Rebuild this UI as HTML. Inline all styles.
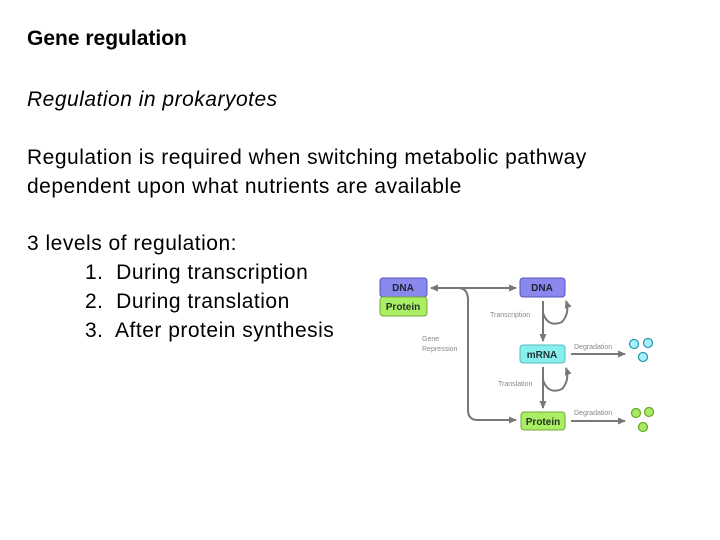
<html><head><style>
body{margin:0;width:720px;height:540px;background:#fff;position:relative;font-family:"Liberation Sans",sans-serif;color:#000}
.t{position:absolute;left:27px;font-size:21px;letter-spacing:0.5px;white-space:nowrap}
</style></head><body>
<div class="t" style="top:27px;font-weight:bold;letter-spacing:0">Gene regulation</div>
<div class="t" style="top:88px;font-style:italic">Regulation in prokaryotes</div>
<div class="t" style="top:146px">Regulation is required when switching metabolic pathway</div>
<div class="t" style="top:175px">dependent upon what nutrients are available</div>
<div class="t" style="top:232px">3 levels of regulation:</div>
<div class="t" style="top:261px;left:85px">1.&nbsp; During transcription</div>
<div class="t" style="top:290px;left:85px">2.&nbsp; During translation</div>
<div class="t" style="top:319px;left:85px">3.&nbsp; After protein synthesis</div>
<svg width="720" height="540" style="position:absolute;left:0;top:0" font-family="Liberation Sans,sans-serif">
<defs><marker id="a" markerUnits="userSpaceOnUse" markerWidth="8" markerHeight="8" refX="7" refY="4" orient="auto-start-reverse"><path d="M0,0.5L8,4L0,7.5z" fill="#777"/></marker></defs>
<g stroke="#777" stroke-width="2" fill="none">
<line x1="431" y1="288" x2="516" y2="288" marker-end="url(#a)" marker-start="url(#a)"/>
<path d="M458,288 Q468,288 468,300 L468,410 Q468,420 478,420 L516,420" marker-end="url(#a)"/>
<line x1="543" y1="301" x2="543" y2="341" marker-end="url(#a)"/>
<line x1="543" y1="367" x2="543" y2="408" marker-end="url(#a)"/>
<path d="M543,313 Q548,328 562,322 Q570,313 566,301" marker-end="url(#a)"/>
<path d="M543,380 Q548,395 562,389 Q570,380 566,368" marker-end="url(#a)"/>
<line x1="571" y1="354" x2="625" y2="354" marker-end="url(#a)"/>
<line x1="571" y1="421" x2="625" y2="421" marker-end="url(#a)"/>
</g>
<g font-weight="bold" font-size="10" text-anchor="middle">
<rect x="380" y="278" width="47" height="19" rx="3" fill="#8888ee" stroke="#5555bb"/><text x="403" y="291" fill="#223">DNA</text>
<rect x="380" y="297" width="47" height="19" rx="3" fill="#aaee66" stroke="#77aa33"/><text x="403" y="310" fill="#232">Protein</text>
<rect x="520" y="278" width="45" height="19" rx="3" fill="#8888ee" stroke="#5555bb"/><text x="542" y="291" fill="#223">DNA</text>
<rect x="520" y="345" width="45" height="18" rx="3" fill="#88eeee" stroke="#55bbbb"/><text x="542" y="358" fill="#233">mRNA</text>
<rect x="521" y="412" width="44" height="18" rx="3" fill="#aaee66" stroke="#77aa33"/><text x="543" y="425" fill="#232">Protein</text>
</g>
<g font-size="7" fill="#888">
<text x="490" y="317">Transcription</text>
<text x="422" y="341">Gene</text><text x="422" y="351">Repression</text>
<text x="498" y="386">Translation</text>
<text x="574" y="349">Degradation</text>
<text x="574" y="415">Degradation</text>
</g>
<g stroke="#2299aa" stroke-width="1.2" fill="#aaeeff">
<circle cx="634" cy="344" r="4.5"/><circle cx="648" cy="343" r="4.5"/><circle cx="643" cy="357" r="4.5"/>
</g>
<g stroke="#66aa22" stroke-width="1.2" fill="#aae866">
<circle cx="636" cy="413" r="4.5"/><circle cx="649" cy="412" r="4.5"/><circle cx="643" cy="427" r="4.5"/>
</g>
</svg>
</body></html>
